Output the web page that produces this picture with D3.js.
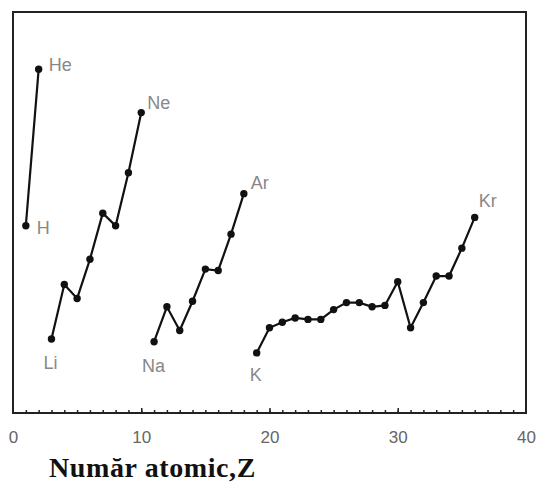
<!DOCTYPE html>
<html>
<head>
<meta charset="utf-8">
<script src="https://cdn.jsdelivr.net/npm/d3@7"></script>
<style>
  body { margin: 0; background: #fff; }
  svg { display: block; }
</style>
</head>
<body>
<div id="chart"></div>
<script>
// first ionization energy (eV), one array per period
var period1 = [13.4, 24.6];                                   // Z = 1..2
var period2 = [5.3, 9.2, 8.2, 11.0, 14.3, 13.4, 17.2, 21.5];  // Z = 3..10
var period3 = [5.1, 7.6, 5.9, 8.0, 10.3, 10.2, 12.8, 15.7];   // Z = 11..18
var period4 = [4.3, 6.1, 6.5, 6.8, 6.7, 6.7, 7.4, 7.9, 7.9,
               7.6, 7.7, 9.4, 6.1, 7.9, 9.8, 9.8, 11.8, 14.0]; // Z = 19..36
var periodStart = [1, 3, 11, 19];

// element labels and where they sit
var labelNames = ["H", "He", "Li", "Ne", "Na", "Ar", "K", "Kr"];
var labelZ     = [1, 2, 3, 10, 11, 18, 19, 36];
var labelDx    = [11, 10, -8, 6, -12, 7, -7, 4];
var labelDy    = [8, 2, 30, -4, 30, -5, 28, -10];

var xTicks = [0, 10, 20, 30, 40];

var width = 541, height = 482;
var plotLeft = 13, plotRight = 526, plotTop = 12, plotBottom = 413;

var svg = d3.select("#chart").append("svg")
  .attr("width", width)
  .attr("height", height);

var x = d3.scaleLinear().domain([0, 40]).range([plotLeft, plotRight]);
var y = d3.scaleLinear().domain([0, 28.7]).range([plotBottom, plotTop]);

// build point lists per period
var periods = [period1, period2, period3, period4].map(function(vals, p) {
  return vals.map(function(v, i) {
    return {z: periodStart[p] + i, e: v};
  });
});

// frame
svg.append("rect")
  .attr("x", plotLeft)
  .attr("y", plotTop)
  .attr("width", plotRight - plotLeft)
  .attr("height", plotBottom - plotTop)
  .attr("fill", "none")
  .attr("stroke", "#222")
  .attr("stroke-width", 2);

// small inward ticks on the bottom axis, every integer
var minor = d3.range(1, 40);
svg.append("g")
  .attr("transform", "translate(0," + plotBottom + ")")
  .call(d3.axisTop(x).tickValues(minor).tickSize(3).tickFormat(""))
  .call(function(g) { g.select(".domain").remove(); })
  .selectAll("line")
  .attr("stroke", "#222")
  .attr("stroke-width", 1.5);

svg.append("g")
  .attr("transform", "translate(0," + plotBottom + ")")
  .call(d3.axisTop(x).tickValues([10, 20, 30]).tickSize(5).tickFormat(""))
  .call(function(g) { g.select(".domain").remove(); })
  .selectAll("line")
  .attr("stroke", "#222")
  .attr("stroke-width", 1.5);

// tick labels below
svg.append("g")
  .attr("transform", "translate(0," + plotBottom + ")")
  .call(d3.axisBottom(x).tickValues(xTicks).tickSize(0).tickPadding(18))
  .call(function(g) {
    g.select(".domain").remove();
    g.selectAll("text")
      .attr("fill", "#666")
      .attr("font-family", "Liberation Sans, Arial, sans-serif")
      .attr("font-size", 17);
  });

// axis title
svg.append("text")
  .attr("x", 49)
  .attr("y", 477)
  .attr("font-family", "Liberation Serif, Times New Roman, serif")
  .attr("font-weight", "bold")
  .attr("font-size", 28)
  .attr("letter-spacing", 0.6)
  .attr("fill", "#111")
  .text("Număr atomic,Z");

// lines
var line = d3.line()
  .x(function(d) { return x(d.z); })
  .y(function(d) { return y(d.e); });

svg.selectAll("path.series")
  .data(periods)
  .enter()
  .append("path")
  .attr("class", "series")
  .attr("d", line)
  .attr("fill", "none")
  .attr("stroke", "#111")
  .attr("stroke-width", 2.2);

// markers
var allPts = [].concat.apply([], periods);
svg.selectAll("circle")
  .data(allPts)
  .enter()
  .append("circle")
  .attr("cx", function(d) { return x(d.z); })
  .attr("cy", function(d) { return y(d.e); })
  .attr("r", 3.7)
  .attr("fill", "#111");

// element labels
var energyOf = function(z) {
  var pt = allPts.filter(function(d) { return d.z === z; })[0];
  return pt.e;
};

svg.selectAll("text.elem")
  .data(labelNames)
  .enter()
  .append("text")
  .attr("class", "elem")
  .attr("x", function(d, i) { return x(labelZ[i]) + labelDx[i]; })
  .attr("y", function(d, i) { return y(energyOf(labelZ[i])) + labelDy[i]; })
  .attr("font-family", "Liberation Sans, Arial, sans-serif")
  .attr("font-size", 18)
  .attr("fill", "#888")
  .text(function(d) { return d; });
</script>
</body>
</html>
